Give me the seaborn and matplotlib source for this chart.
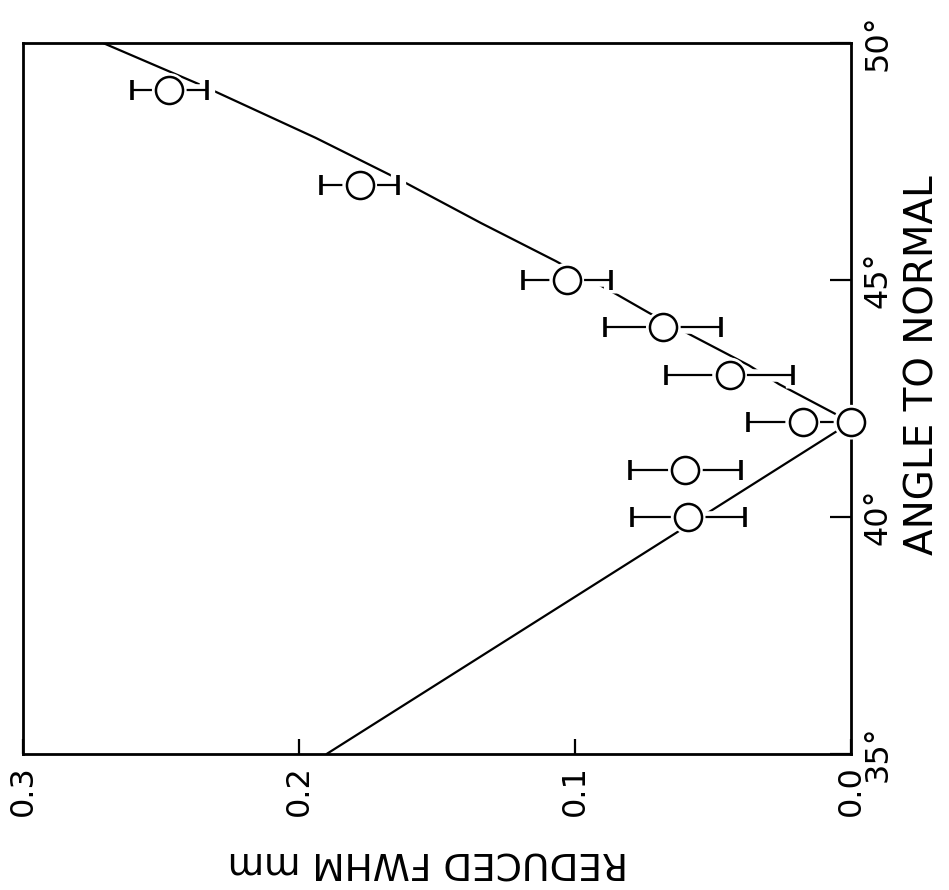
import matplotlib
matplotlib.use("Agg")
import matplotlib.pyplot as plt
import numpy as np
import pandas as pd
import seaborn as sns

# Measured reduced FWHM (mm) against angle to the normal (degrees)
angle_deg = [40, 41, 42, 43, 44, 45, 47, 49]
fwhm_mm = [0.059, 0.060, 0.0175, 0.044, 0.068, 0.103, 0.178, 0.247]
fwhm_err = [0.0205, 0.020, 0.020, 0.023, 0.021, 0.016, 0.014, 0.0135]

# Point at the minimum of the predicted curve
min_angle = [42.0]
min_fwhm = [0.0]

# Predicted curve
curve_angle = [35.0, 42.0, 42.8, 43.2, 43.9, 44.3, 44.7, 45.4, 46.2, 47.1, 48.0, 49.1, 50.0]
curve_fwhm = [0.190, 0.0, 0.026, 0.037, 0.060, 0.073, 0.085, 0.107, 0.134, 0.163, 0.194, 0.235, 0.271]

x_ticks = [0.3, 0.2, 0.1, 0.0]
x_tick_labels = ["0.3", "0.2", "0.1", "0.0"]
y_ticks = [35, 40, 45, 50]
y_tick_labels = ["35°", "40°", "45°", "50°"]

sns.set_theme(style="white")
plt.rcParams["font.family"] = ["DejaVu Sans"]

fig = plt.figure(figsize=(9.49, 8.9), dpi=100)
fig.patch.set_facecolor("white")
ax = fig.add_axes([23 / 949, 1 - 754 / 890, 828 / 949, 711 / 890])
ax.set_facecolor("white")

curve = pd.DataFrame({"fwhm": curve_fwhm, "angle": curve_angle})
sns.lineplot(data=curve, x="fwhm", y="angle", sort=False, estimator=None,
             color="black", linewidth=1.6, ax=ax, zorder=2)

# white margin round the error bars so the curve breaks where it meets them
ax.errorbar(fwhm_mm, angle_deg, xerr=fwhm_err, fmt="none", ecolor="white",
            elinewidth=9, capsize=9, capthick=11, zorder=2.5)
ax.errorbar(fwhm_mm, angle_deg, xerr=fwhm_err, fmt="none", ecolor="black",
            elinewidth=1.6, capsize=7.5, capthick=2.6, zorder=3)

pts = pd.DataFrame({"fwhm": fwhm_mm + min_fwhm, "angle": angle_deg + min_angle})
sns.scatterplot(data=pts, x="fwhm", y="angle", s=25 ** 2, color="white",
                edgecolor="none", linewidth=0, ax=ax, zorder=4, clip_on=False)
sns.scatterplot(data=pts, x="fwhm", y="angle", s=19.5 ** 2, color="white",
                edgecolor="black", linewidth=1.8, ax=ax, zorder=5, clip_on=False)

ax.set_xlim(0.3, 0.0)
ax.set_ylim(35, 50)

ax.set_xticks(x_ticks)
ax.set_xticklabels(x_tick_labels)
ax.yaxis.tick_right()
ax.set_yticks(y_ticks)
ax.set_yticklabels(y_tick_labels)

ax.tick_params(axis="x", direction="in", length=11, width=1.6, pad=8,
               labelsize=23, labelrotation=90, colors="black", bottom=True)
ax.tick_params(axis="y", direction="in", length=15, width=1.6, pad=8,
               labelsize=23, labelrotation=90, colors="black", right=True, left=False)
for lbl in ax.get_yticklabels():
    lbl.set_verticalalignment("center")

for side in ["left", "right", "top", "bottom"]:
    ax.spines[side].set_visible(True)
    ax.spines[side].set_color("black")
    ax.spines[side].set_linewidth(2.0)

ax.set_xlabel("REDUCED FWHM mm", rotation=180, fontsize=27, color="black")
ax.xaxis.set_label_coords((428 - 23) / 828, (754 - 843) / 711)

ax.yaxis.set_label_position("right")
ax.set_ylabel("ANGLE TO NORMAL", rotation=90, fontsize=28, color="black")
ax.yaxis.set_label_coords((904 - 23) / 828, (754 - 365) / 711)

fig.savefig("out.png", dpi=100, facecolor="white")
